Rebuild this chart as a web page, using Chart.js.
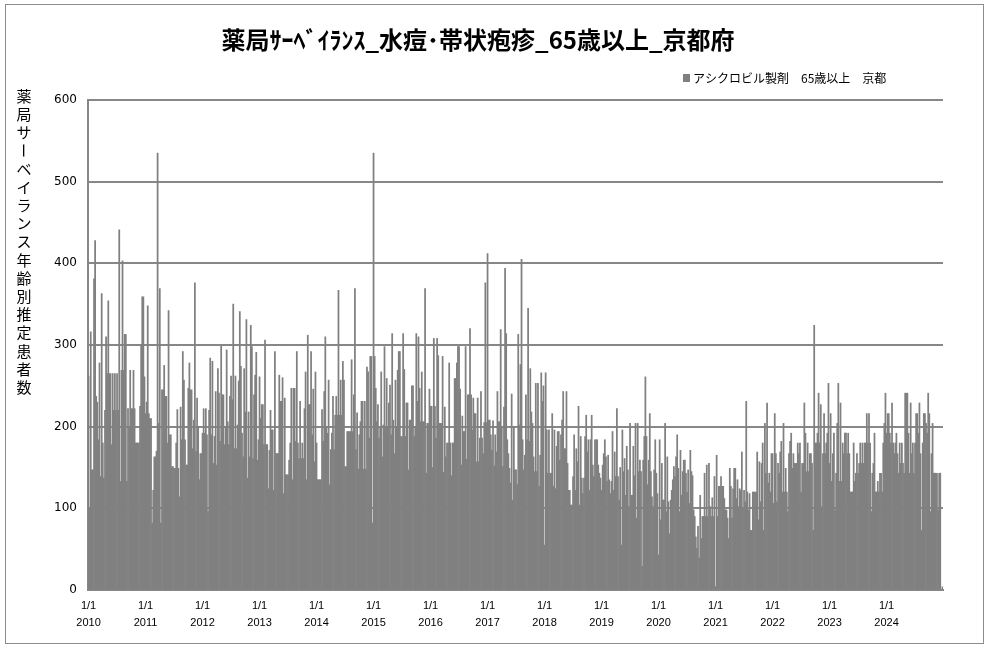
<!DOCTYPE html>
<html>
<head>
<meta charset="utf-8">
<title>薬局サーベイランス 水痘・帯状疱疹 65歳以上 京都府</title>
<style>
  body { margin: 0; background: #fff; }
</style>
</head>
<body>
<canvas id="chart" width="987" height="648"></canvas>
<script src="https://cdn.jsdelivr.net/npm/chart.js"></script>
<script>
const titleText = '薬局ｻｰﾍﾞｲﾗﾝｽ_水痘･帯状疱疹_65歳以上_京都府';
const legendText = 'アシクロビル製剤　65歳以上　京都';
const yTitle = '薬局サーベイランス年齢別推定患者数';

const years = [2010, 2011, 2012, 2013, 2014, 2015, 2016, 2017, 2018, 2019, 2020, 2021, 2022, 2023, 2024];
const weeksPerYear = 52;

// estimated patients, one value per week
const y2010 = [262,100,316,147,147,381,428,237,230,184,278,139,363,180,137,220,310,265,354,265,265,178,265,220,265,220,265,220,441,133,269,403,269,313,313,133,222,200,269,222,222,269,222,180,180,180,180,225,300,359,359,261];
const y2011 = [216,230,348,216,210,210,82,122,163,163,170,535,204,369,82,245,245,275,237,237,180,342,190,190,151,151,149,149,180,221,149,114,224,184,292,257,184,153,153,247,278,245,245,173,208,376,170,235,200,135,167,167];
const y2012 = [192,222,192,222,190,96,220,284,190,280,155,188,243,153,271,241,182,299,239,239,178,200,294,206,178,237,262,233,350,173,262,173,202,256,341,274,192,163,271,218,331,137,218,163,324,298,161,239,263,291,159,184];
const y2013 = [261,210,227,227,178,306,178,178,124,171,220,196,196,122,292,167,167,167,263,231,231,260,118,235,141,141,141,159,180,247,135,247,247,182,292,180,161,231,161,180,161,222,267,135,312,227,227,292,190,246,157,267];
const y2014 = [180,135,135,135,135,221,182,243,310,200,192,257,129,172,192,237,172,214,237,214,367,214,257,214,280,257,151,151,194,194,194,194,282,194,239,369,172,217,148,190,206,231,231,148,231,148,273,267,186,286,286,82];
const y2015 = [535,286,247,206,227,186,200,267,163,202,298,198,259,200,229,251,190,314,208,167,257,200,269,292,292,188,188,314,270,188,229,229,147,208,208,250,250,188,200,314,231,310,247,206,267,206,206,369,143,204,204,246];
const y2016 = [225,225,150,308,225,186,308,287,204,204,204,286,144,224,163,180,180,278,180,140,180,180,259,259,278,298,298,246,153,213,194,194,298,160,239,239,320,239,196,235,216,216,157,235,157,186,243,186,167,205,376,205];
const y2017 = [412,208,208,190,171,207,152,190,169,243,206,206,319,200,151,224,394,314,184,167,149,131,240,110,200,147,147,129,313,202,276,405,184,147,165,239,184,345,182,271,218,204,163,145,253,145,253,127,165,266,231,250];
const y2018 = [55,266,196,143,196,143,143,216,127,196,124,176,194,194,159,190,208,243,173,173,243,155,122,122,104,104,139,190,122,173,157,225,104,188,137,118,137,188,214,169,184,122,184,214,153,139,184,184,184,153,143,137];
const y2019 = [122,153,167,184,163,133,165,135,118,133,194,122,169,139,222,139,110,150,55,196,145,161,116,176,147,102,204,116,116,176,140,204,88,204,145,159,145,29,159,188,261,188,129,159,216,145,114,102,147,184,143,118];
const y2020 = [43,184,86,155,110,110,204,96,163,108,69,110,122,135,151,139,163,190,149,96,171,116,145,159,159,143,120,147,106,171,145,140,98,90,65,51,78,39,116,63,90,90,143,90,153,90,155,102,90,113,90,139];
const y2021 = [4,165,90,127,127,139,127,127,112,98,98,88,63,149,127,88,124,149,149,112,135,102,124,122,169,100,122,108,231,120,98,118,73,73,120,120,120,120,169,86,157,108,155,180,73,204,143,229,131,143,120,167];
const y2022 = [167,106,216,167,108,155,143,169,182,120,204,120,149,120,96,167,182,192,149,167,155,155,155,180,167,180,120,155,155,229,192,145,180,145,167,167,155,73,324,180,180,192,241,180,227,102,167,216,167,180,192,253];
const y2023 = [155,216,133,167,192,98,143,204,253,133,229,133,180,167,192,192,167,192,167,120,120,120,180,133,143,167,143,155,180,155,180,155,180,180,216,180,216,180,96,143,155,192,120,120,133,120,143,143,120,180,204,241];
const y2024 = [192,216,216,192,180,229,180,167,180,192,167,143,180,155,180,155,143,241,241,241,192,143,229,167,180,143,180,216,216,192,229,167,73,180,216,216,204,192,241,216,96,167,204,143,143,143,143,98,143,143,0,4];

const byYear = [y2010, y2011, y2012, y2013, y2014, y2015, y2016, y2017, y2018, y2019, y2020, y2021, y2022, y2023, y2024];

const labels = [];
const values = [];
years.forEach((yr, i) => {
  byYear[i].forEach((v, w) => {
    labels.push(yr + '-W' + (w + 1));
    values.push(v);
  });
});

const gridColor = '#878787';

// title, legend, vertical axis title and outer frame
const decor = {
  id: 'decor',
  afterDraw(chart) {
    const ctx = chart.ctx;
    ctx.save();
    ctx.strokeStyle = '#8c8c8c';
    ctx.lineWidth = 1;
    ctx.strokeRect(5.5, 4.5, 978, 639);

    ctx.fillStyle = '#000';
    ctx.font = 'bold 24px "Noto Sans CJK JP"';
    ctx.textAlign = 'center';
    ctx.textBaseline = 'middle';
    ctx.fillText(titleText, 478, 40);

    ctx.fillStyle = '#808080';
    ctx.fillRect(683, 74, 7, 8);
    ctx.fillStyle = '#000';
    ctx.font = '12px "Noto Sans CJK JP"';
    ctx.textAlign = 'left';
    ctx.fillText(legendText, 693, 78);

    ctx.font = '15px "Noto Sans CJK JP"';
    ctx.textAlign = 'center';
    [...yTitle].forEach((ch, i) => {
      const y = 96 + i * 18.2;
      if (ch === 'ー') {
        ctx.save();
        ctx.translate(24, y);
        ctx.rotate(Math.PI / 2);
        ctx.fillText(ch, 0, 0);
        ctx.restore();
      } else {
        ctx.fillText(ch, 24, y);
      }
    });
    ctx.restore();
  }
};

new Chart(document.getElementById('chart'), {
  type: 'bar',
  data: {
    labels: labels,
    datasets: [{
      label: legendText,
      data: values,
      backgroundColor: '#808080',
      borderWidth: 0,
      barPercentage: 1,
      categoryPercentage: 1
    }]
  },
  options: {
    responsive: false,
    animation: false,
    events: [],
    layout: { padding: { top: 100, right: 44, bottom: 0, left: 0 } },
    plugins: {
      legend: { display: false },
      title: { display: false },
      tooltip: { enabled: false }
    },
    scales: {
      x: {
        grid: { display: false },
        border: { display: true, color: gridColor, width: 2 },
        ticks: {
          autoSkip: false,
          maxRotation: 0,
          minRotation: 0,
          padding: -1,
          color: '#000',
          font: { family: 'Liberation Sans', size: 11, lineHeight: 1.6 },
          callback: v => ['1/1', String(years[v / weeksPerYear])]
        },
        afterBuildTicks: s => { s.ticks = s.ticks.filter(t => t.value % weeksPerYear === 0); },
        afterFit: s => { s.height = 58; }
      },
      y: {
        min: 0,
        max: 600,
        z: 1,
        ticks: { stepSize: 100, padding: 11, color: '#000', font: { family: 'DejaVu Sans', size: 12 } },
        grid: { color: gridColor, lineWidth: 2, drawTicks: false },
        border: { display: true, color: gridColor, width: 2 },
        afterFit: s => { s.width = 88; }
      }
    }
  },
  plugins: [decor]
});
</script>
</body>
</html>
